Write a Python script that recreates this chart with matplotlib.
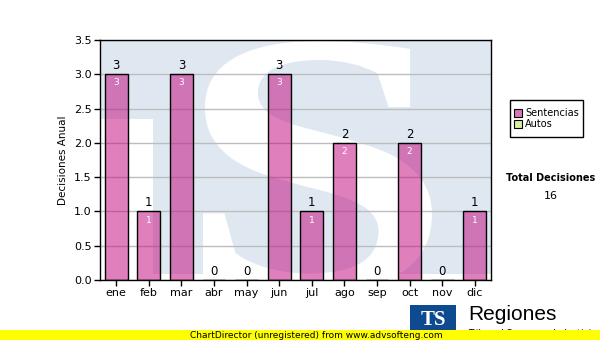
import matplotlib
matplotlib.use("Agg")
import matplotlib.pyplot as plt
from matplotlib.patches import Rectangle, PathPatch
from matplotlib.textpath import TextPath
from matplotlib.font_manager import FontProperties
from matplotlib.transforms import Affine2D, IdentityTransform

months = ["ene", "feb", "mar", "abr", "may", "jun", "jul", "ago", "sep", "oct", "nov", "dic"]
sentencias = [3, 1, 3, 0, 0, 3, 1, 2, 0, 2, 0, 1]
legend_labels = ["Sentencias", "Autos"]
y_ticks = [0.0, 0.5, 1.0, 1.5, 2.0, 2.5, 3.0, 3.5]
total_label = "Total Decisiones"
total_value = 16

W, H = 600, 340
fig = plt.figure(figsize=(W / 100, H / 100), dpi=100)
fig.patch.set_facecolor("white")

def fx(px):
    return px / W

def fy(py):
    return 1 - py / H

# plot area in pixels
L, R, T, B = 100, 491, 40, 280
ax = fig.add_axes([fx(L), fy(B), fx(R) - fx(L), fy(T) - fy(B)])
ax.set_facecolor("white")
ax.set_xlim(-0.5, len(months) - 0.5)
ax.set_ylim(0, 3.5)

# watermark background (light blue with white shapes)
blue = "#dfe8f1"
def px2data(x, y):
    dx = (x - L) / (R - L) * len(months) - 0.5
    dy = (B - y) / (B - T) * 3.5
    return dx, dy

x0, y0 = px2data(L, 274)
x1, y1 = px2data(R, T)
ax.add_patch(Rectangle((x0, y0), x1 - x0, y1 - y0, facecolor=blue, edgecolor="none", zorder=0.1))
wx0, wy0 = px2data(L, 274)
wx1, wy1 = px2data(153, 119)
ax.add_patch(Rectangle((wx0, wy0), wx1 - wx0, wy1 - wy0, facecolor="white", edgecolor="none", zorder=0.15))

# big "S" watermark fitted to a pixel box
tp = TextPath((0, 0), "S", size=100, prop=FontProperties(family="Liberation Serif", weight="bold"))
ext = tp.get_extents()
sx0, sx1, sy_top, sy_bot = 203, 432, 41, 292
scx = (sx1 - sx0) / ext.width
scy = (sy_bot - sy_top) / ext.height
tr = (Affine2D().translate(-ext.x0, -ext.y0).scale(scx, scy)
      .translate(sx0, H - sy_bot))
spatch = PathPatch(tp, facecolor="white", edgecolor="none", transform=tr + IdentityTransform(), zorder=0.2)
ax.add_artist(spatch)
spatch.set_clip_path(ax.patch)

ax.set_axisbelow(True)
ax.yaxis.grid(True, color="#bdbdbd", linewidth=1)
ax.set_yticks(y_ticks)
ax.set_yticklabels([f"{v:.1f}" for v in y_ticks], fontsize=8)
ax.set_xticks(range(len(months)))
ax.set_xticklabels(months, fontsize=8)
ax.tick_params(axis="both", direction="out", length=4, width=1, color="black", pad=2)
for s in ax.spines.values():
    s.set_color("black")
    s.set_linewidth(1)
ax.set_ylabel("Decisiones Anual", fontsize=7.5, labelpad=4)

bar_color = (193 / 255, 1 / 255, 123 / 255, 0.5)
xs = list(range(len(months)))
ax.bar(xs, sentencias, width=0.7, color=bar_color, edgecolor="black", linewidth=1, zorder=2)
for x, v in zip(xs, sentencias):
    ax.text(x, v + 0.03, str(v), ha="center", va="bottom", fontsize=8.5, color="black", zorder=3)
    if v > 0:
        ax.text(x, v - 0.06, str(v), ha="center", va="top", fontsize=6.5, color="white", zorder=3)

# legend box
lx0, ly0, lx1, ly1 = 510, 100, 583, 137
fig.patches.append(Rectangle((fx(lx0), fy(ly1)), fx(lx1 - lx0), (ly1 - ly0) / H,
                             transform=fig.transFigure, facecolor="white", edgecolor="black", linewidth=1))
sq_colors = ["#d877b8", "#d8eea0"]
for i, (lab, c) in enumerate(zip(legend_labels, sq_colors)):
    cy = 113 + i * 11
    fig.patches.append(Rectangle((fx(514), fy(cy + 4)), fx(8), 8 / H, transform=fig.transFigure,
                                 facecolor=c, edgecolor="black", linewidth=0.8))
    fig.text(fx(525), fy(cy), lab, fontsize=7, va="center", ha="left")

fig.text(fx(551), fy(178), total_label, fontsize=7, weight="bold", ha="center", va="center")
fig.text(fx(551), fy(196), str(total_value), fontsize=8, ha="center", va="center")

# bottom logo
fig.patches.append(Rectangle((fx(410), fy(332)), fx(46), 27 / H, transform=fig.transFigure,
                             facecolor="#0d4a8f", edgecolor="none"))
fig.text(fx(433), fy(320), "TS", fontsize=15, weight="bold", family="Liberation Serif",
         color="white", ha="center", va="center")
fig.text(fx(468), fy(315), "Regiones", fontsize=15, ha="left", va="center", family="Liberation Sans")
fig.text(fx(468), fy(333), "Tribunal Supremo de Justicia", fontsize=6.5, ha="left", va="center")

# yellow band
fig.patches.append(Rectangle((0, 0), 1, 10 / H, transform=fig.transFigure,
                             facecolor="#ffff00", edgecolor="none", zorder=5))
fig.text(fx(190), fy(335), "ChartDirector (unregistered) from www.advsofteng.com", fontsize=6.5,
         ha="left", va="center", zorder=6)

fig.savefig("out.png", dpi=100)
